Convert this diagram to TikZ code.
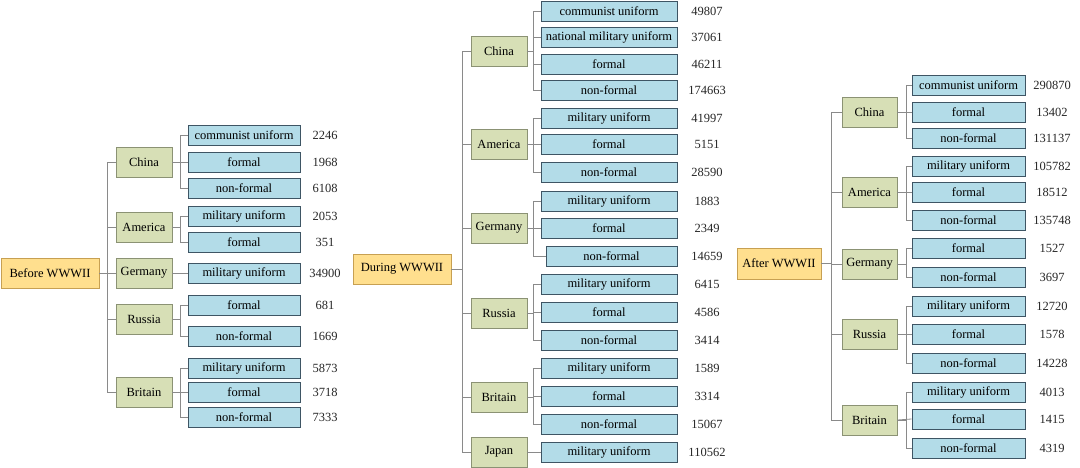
\documentclass[tikz,border=0pt]{standalone}
\usepackage{fontspec}
\setmainfont{Liberation Serif}
\usepackage{tikz}
\definecolor{leafblue}{HTML}{B3DCE8}
\definecolor{leafedge}{HTML}{3E5564}
\definecolor{landgreen}{HTML}{D7DFB6}
\definecolor{landedge}{HTML}{8B9274}
\definecolor{rootyellow}{HTML}{FFDF8E}
\definecolor{rootedge}{HTML}{C7A052}
\definecolor{linkgray}{HTML}{8A8A8A}

\begin{document}
\begin{tikzpicture}[x=1pt, y=-1pt,
  every node/.style={font=\fontsize{12.5}{14}\selectfont, inner sep=0pt},
  root/.style={draw=rootedge, fill=rootyellow, line width=0.9pt, minimum width=98pt, minimum height=30pt},
  land/.style={draw=landedge, fill=landgreen, line width=0.9pt, minimum width=56pt, minimum height=30pt},
  leaf/.style={draw=leafedge, fill=leafblue, line width=0.9pt, minimum width=112pt, minimum height=20pt},
  num/.style={text=black!85},
  link/.style={draw=linkgray, line width=0.8pt}]
  \useasboundingbox (0,0) rectangle (1080,468);
  \node[root] (before) at (50,273) {Before WWWII};
  \node[land] (b-china) at (144,162) {China};
  \node[land] (b-america) at (144,227) {America};
  \node[land] (b-germany) at (144,273) {Germany};
  \node[land] (b-russia) at (144,319) {Russia};
  \node[land] (b-britain) at (144,392) {Britain};
  \node[leaf] (b-china-1) at (244,135) {communist uniform};
  \node[leaf] (b-china-2) at (244,162) {formal};
  \node[leaf] (b-china-3) at (244,188) {non-formal};
  \node[leaf] (b-america-1) at (244,216) {military uniform};
  \node[leaf] (b-america-2) at (244,242) {formal};
  \node[leaf] (b-germany-1) at (244,273) {military uniform};
  \node[leaf] (b-russia-1) at (244,305) {formal};
  \node[leaf] (b-russia-2) at (244,336) {non-formal};
  \node[leaf] (b-britain-1) at (244,368) {military uniform};
  \node[leaf] (b-britain-2) at (244,392) {formal};
  \node[leaf] (b-britain-3) at (244,417) {non-formal};
  \node[num] (b-china-1-n) at (325,135) {2246};
  \node[num] (b-china-2-n) at (325,162) {1968};
  \node[num] (b-china-3-n) at (325,188) {6108};
  \node[num] (b-america-1-n) at (325,216) {2053};
  \node[num] (b-america-2-n) at (325,242) {351};
  \node[num] (b-germany-1-n) at (325,273) {34900};
  \node[num] (b-russia-1-n) at (325,305) {681};
  \node[num] (b-russia-2-n) at (325,336) {1669};
  \node[num] (b-britain-1-n) at (325,368) {5873};
  \node[num] (b-britain-2-n) at (325,392) {3718};
  \node[num] (b-britain-3-n) at (325,417) {7333};
  \draw[link] (before.east) -- ++(8,0) |- (b-china.west);
  \draw[link] (before.east) -- ++(8,0) |- (b-america.west);
  \draw[link] (before.east) -- (b-germany.west);
  \draw[link] (before.east) -- ++(8,0) |- (b-russia.west);
  \draw[link] (before.east) -- ++(8,0) |- (b-britain.west);
  \draw[link] (b-china.east) -- ++(8,0) |- (b-china-1.west);
  \draw[link] (b-china.east) -- (b-china-2.west);
  \draw[link] (b-china.east) -- ++(8,0) |- (b-china-3.west);
  \draw[link] (b-america.east) -- ++(8,0) |- (b-america-1.west);
  \draw[link] (b-america.east) -- ++(8,0) |- (b-america-2.west);
  \draw[link] (b-germany.east) -- (b-germany-1.west);
  \draw[link] (b-russia.east) -- ++(8,0) |- (b-russia-1.west);
  \draw[link] (b-russia.east) -- ++(8,0) |- (b-russia-2.west);
  \draw[link] (b-britain.east) -- ++(8,0) |- (b-britain-1.west);
  \draw[link] (b-britain.east) -- (b-britain-2.west);
  \draw[link] (b-britain.east) -- ++(8,0) |- (b-britain-3.west);
  \node[root] (during) at (402,269) {During WWWII};
  \node[land] (d-china) at (499,51) {China};
  \node[land] (d-america) at (499,144) {America};
  \node[land] (d-germany) at (499,228) {Germany};
  \node[land] (d-russia) at (499,313) {Russia};
  \node[land] (d-britain) at (499,397) {Britain};
  \node[land] (d-japan) at (499,452) {Japan};
  \node[leaf, minimum width=136pt] (d-china-1) at (609,11) {communist uniform};
  \node[leaf, minimum width=136pt] (d-china-2) at (609,37) {national military uniform};
  \node[leaf, minimum width=136pt] (d-china-3) at (609,64) {formal};
  \node[leaf, minimum width=136pt] (d-china-4) at (609,90) {non-formal};
  \node[leaf, minimum width=136pt] (d-america-1) at (609,118) {military uniform};
  \node[leaf, minimum width=136pt] (d-america-2) at (609,144) {formal};
  \node[leaf, minimum width=136pt] (d-america-3) at (609,172) {non-formal};
  \node[leaf, minimum width=136pt] (d-germany-1) at (609,201) {military uniform};
  \node[leaf, minimum width=136pt] (d-germany-2) at (609,228) {formal};
  \node[leaf, minimum width=131pt] (d-germany-3) at (611.5,256) {non-formal};
  \node[leaf, minimum width=136pt] (d-russia-1) at (609,284) {military uniform};
  \node[leaf, minimum width=136pt] (d-russia-2) at (609,312) {formal};
  \node[leaf, minimum width=136pt] (d-russia-3) at (609,340) {non-formal};
  \node[leaf, minimum width=136pt] (d-britain-1) at (609,368) {military uniform};
  \node[leaf, minimum width=136pt] (d-britain-2) at (609,396) {formal};
  \node[leaf, minimum width=136pt] (d-britain-3) at (609,424) {non-formal};
  \node[leaf, minimum width=136pt] (d-japan-1) at (609,452) {military uniform};
  \node[num] (d-china-1-n) at (707,11) {49807};
  \node[num] (d-china-2-n) at (707,37) {37061};
  \node[num] (d-china-3-n) at (707,64) {46211};
  \node[num] (d-china-4-n) at (707,90) {174663};
  \node[num] (d-america-1-n) at (707,118) {41997};
  \node[num] (d-america-2-n) at (707,144) {5151};
  \node[num] (d-america-3-n) at (707,172) {28590};
  \node[num] (d-germany-1-n) at (707,201) {1883};
  \node[num] (d-germany-2-n) at (707,228) {2349};
  \node[num] (d-germany-3-n) at (707,256) {14659};
  \node[num] (d-russia-1-n) at (707,284) {6415};
  \node[num] (d-russia-2-n) at (707,312) {4586};
  \node[num] (d-russia-3-n) at (707,340) {3414};
  \node[num] (d-britain-1-n) at (707,368) {1589};
  \node[num] (d-britain-2-n) at (707,396) {3314};
  \node[num] (d-britain-3-n) at (707,424) {15067};
  \node[num] (d-japan-1-n) at (707,452) {110562};
  \draw[link] (during.east) -- ++(11,0) |- (d-china.west);
  \draw[link] (during.east) -- ++(11,0) |- (d-america.west);
  \draw[link] (during.east) -- ++(11,0) |- (d-germany.west);
  \draw[link] (during.east) -- ++(11,0) |- (d-russia.west);
  \draw[link] (during.east) -- ++(11,0) |- (d-britain.west);
  \draw[link] (during.east) -- ++(11,0) |- (d-japan.west);
  \draw[link] (d-china.east) -- ++(6,0) |- (d-china-1.west);
  \draw[link] (d-china.east) -- ++(6,0) |- (d-china-2.west);
  \draw[link] (d-china.east) -- ++(6,0) |- (d-china-3.west);
  \draw[link] (d-china.east) -- ++(6,0) |- (d-china-4.west);
  \draw[link] (d-america.east) -- ++(6,0) |- (d-america-1.west);
  \draw[link] (d-america.east) -- (d-america-2.west);
  \draw[link] (d-america.east) -- ++(6,0) |- (d-america-3.west);
  \draw[link] (d-germany.east) -- ++(6,0) |- (d-germany-1.west);
  \draw[link] (d-germany.east) -- (d-germany-2.west);
  \draw[link] (d-germany.east) -- ++(6,0) |- (d-germany-3.west);
  \draw[link] (d-russia.east) -- ++(6,0) |- (d-russia-1.west);
  \draw[link] (d-russia.east) -- ++(6,0) |- (d-russia-2.west);
  \draw[link] (d-russia.east) -- ++(6,0) |- (d-russia-3.west);
  \draw[link] (d-britain.east) -- ++(6,0) |- (d-britain-1.west);
  \draw[link] (d-britain.east) -- ++(6,0) |- (d-britain-2.west);
  \draw[link] (d-britain.east) -- ++(6,0) |- (d-britain-3.west);
  \draw[link] (d-japan.east) -- (d-japan-1.west);
  \node[root, minimum width=84pt, minimum height=31pt] (after) at (779,263.5) {After WWWII};
  \node[land, minimum width=55pt] (a-china) at (869.5,112) {China};
  \node[land, minimum width=55pt] (a-america) at (869.5,192) {America};
  \node[land, minimum width=55pt] (a-germany) at (869.5,264) {Germany};
  \node[land, minimum width=55pt] (a-russia) at (869.5,334) {Russia};
  \node[land, minimum width=55pt] (a-britain) at (869.5,420) {Britain};
  \node[leaf, minimum width=113pt] (a-china-1) at (968.5,85) {communist uniform};
  \node[leaf, minimum width=113pt] (a-china-2) at (968.5,112) {formal};
  \node[leaf, minimum width=113pt] (a-china-3) at (968.5,138) {non-formal};
  \node[leaf, minimum width=113pt] (a-america-1) at (968.5,166) {military uniform};
  \node[leaf, minimum width=113pt] (a-america-2) at (968.5,192) {formal};
  \node[leaf, minimum width=113pt] (a-america-3) at (968.5,220) {non-formal};
  \node[leaf, minimum width=113pt] (a-germany-1) at (968.5,248) {formal};
  \node[leaf, minimum width=113pt] (a-germany-2) at (968.5,277) {non-formal};
  \node[leaf, minimum width=113pt] (a-russia-1) at (968.5,306) {military uniform};
  \node[leaf, minimum width=113pt] (a-russia-2) at (968.5,334) {formal};
  \node[leaf, minimum width=113pt] (a-russia-3) at (968.5,363) {non-formal};
  \node[leaf, minimum width=113pt] (a-britain-1) at (968.5,392) {military uniform};
  \node[leaf, minimum width=113pt] (a-britain-2) at (968.5,419) {formal};
  \node[leaf, minimum width=113pt] (a-britain-3) at (968.5,448) {non-formal};
  \node[num] (a-china-1-n) at (1052,85) {290870};
  \node[num] (a-china-2-n) at (1052,112) {13402};
  \node[num] (a-china-3-n) at (1052,138) {131137};
  \node[num] (a-america-1-n) at (1052,166) {105782};
  \node[num] (a-america-2-n) at (1052,192) {18512};
  \node[num] (a-america-3-n) at (1052,220) {135748};
  \node[num] (a-germany-1-n) at (1052,248) {1527};
  \node[num] (a-germany-2-n) at (1052,277) {3697};
  \node[num] (a-russia-1-n) at (1052,306) {12720};
  \node[num] (a-russia-2-n) at (1052,334) {1578};
  \node[num] (a-russia-3-n) at (1052,363) {14228};
  \node[num] (a-britain-1-n) at (1052,392) {4013};
  \node[num] (a-britain-2-n) at (1052,419) {1415};
  \node[num] (a-britain-3-n) at (1052,448) {4319};
  \draw[link] (after.east) -- ++(10,0) |- (a-china.west);
  \draw[link] (after.east) -- ++(10,0) |- (a-america.west);
  \draw[link] (after.east) -- ++(10,0) |- (a-germany.west);
  \draw[link] (after.east) -- ++(10,0) |- (a-russia.west);
  \draw[link] (after.east) -- ++(10,0) |- (a-britain.west);
  \draw[link] (a-china.east) -- ++(9,0) |- (a-china-1.west);
  \draw[link] (a-china.east) -- (a-china-2.west);
  \draw[link] (a-china.east) -- ++(9,0) |- (a-china-3.west);
  \draw[link] (a-america.east) -- ++(9,0) |- (a-america-1.west);
  \draw[link] (a-america.east) -- (a-america-2.west);
  \draw[link] (a-america.east) -- ++(9,0) |- (a-america-3.west);
  \draw[link] (a-germany.east) -- ++(9,0) |- (a-germany-1.west);
  \draw[link] (a-germany.east) -- ++(9,0) |- (a-germany-2.west);
  \draw[link] (a-russia.east) -- ++(9,0) |- (a-russia-1.west);
  \draw[link] (a-russia.east) -- (a-russia-2.west);
  \draw[link] (a-russia.east) -- ++(9,0) |- (a-russia-3.west);
  \draw[link] (a-britain.east) -- ++(9,0) |- (a-britain-1.west);
  \draw[link] (a-britain.east) -- (a-britain-2.west);
  \draw[link] (a-britain.east) -- ++(9,0) |- (a-britain-3.west);
\end{tikzpicture}
\end{document}
